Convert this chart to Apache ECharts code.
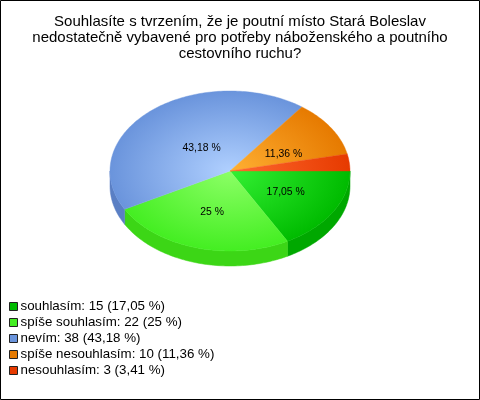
<!DOCTYPE html>
<html><head><meta charset="utf-8">
<script src="https://cdn.jsdelivr.net/npm/echarts@6/dist/echarts.min.js"></script>
<style>html,body{margin:0;padding:0;background:#fff}#c{width:480px;height:400px}</style>
</head><body><div id="c"></div>
<script>
const titleText = "Souhlasíte s tvrzením, že je poutní místo Stará Boleslav\nnedostatečně vybavené pro potřeby náboženského a poutního\ncestovního ruchu?";
const categories = ["souhlasím","spíše souhlasím","nevím","spíše nesouhlasím","nesouhlasím"];
const values = [15,22,38,10,3];
const percents = ["17,05","25","43,18","11,36","3,41"];
const sliceLabels = ["17,05 %","25 %","43,18 %","11,36 %",""];
const innerColors = ["#33f033","#8cff66","#b0d0ff","#ffb033","#ff6a30"];
const outerColors = ["#00bb00","#44ee22","#6a94dc","#e67a00","#e63a00"];
const wallColors = ["#00a800","#3cd616","#5a7fc4","#c46600","#c43200"];
const legendColors = ["#00bb00","#44ee22","#6a94dc","#e67a00","#e63a00"];

const cx=230, cy=171, rx=120, ry=80, depth=15;
const labelR=[0.52,0.53,0.4,0.55,0.5];
const labelDx=[2,0,3,-2,0], labelDy=[0,0,1,7,0];
const total = values.reduce((a,b)=>a+b,0);
const scaleY = ry/rx;

function arc(a0,a1,oy){
  const pts=[], n=Math.max(2,Math.ceil((a1-a0)/0.02));
  for(let i=0;i<=n;i++){const a=a0+(a1-a0)*i/n;pts.push([cx+rx*Math.cos(a),cy+rx*Math.sin(a)+oy]);}
  return pts;
}
function wallPts(a0,a1){
  const top=[],n=Math.max(2,Math.ceil((a1-a0)/0.02));
  for(let i=0;i<=n;i++){const a=a0+(a1-a0)*i/n;top.push([cx+rx*Math.cos(a),cy+ry*Math.sin(a)]);}
  return top.concat(top.slice().reverse().map(p=>[p[0],p[1]+depth]));
}
let cum=0;
const series = categories.map((name,i)=>{
  const start=cum/total*2*Math.PI; cum+=values[i];
  const end=cum/total*2*Math.PI;
  return {
    type:'custom',name,coordinateSystem:'none',silent:true,
    data:[[values[i]]],
    itemStyle:{color:legendColors[i]},
    renderItem(params,api){
      const grad={type:'radial',x:cx,y:cy,r:rx,global:true,colorStops:[{offset:0,color:innerColors[i]},{offset:1,color:outerColors[i]}]};
      const children=[];
      const wEnd=Math.min(end,Math.PI);
      if(start<wEnd){children.push({type:'polygon',z2:1,shape:{points:wallPts(start,wEnd)},style:{fill:wallColors[i],stroke:wallColors[i],lineWidth:0.5}});}
      children.push({type:'polygon',z2:2,originX:cx,originY:cy,scaleY,shape:{points:[[cx,cy]].concat(arc(start,end,0))},style:{fill:grad,stroke:grad,lineWidth:0.5}});
      return {type:'group',children};
    }
  };
});
cum=0;
const labelItems = values.map((v,i)=>{
  const mid=(cum+v/2)/total*2*Math.PI; cum+=v;
  return {v,mid,i};
});
series.push({
  type:'custom',coordinateSystem:'none',silent:true,z:5,data:labelItems.map(d=>[d.v]),
  renderItem(params,api){
    const d=labelItems[params.dataIndex];
    return {type:'text',style:{x:labelDx[d.i]+cx+labelR[d.i]*rx*Math.cos(d.mid),y:labelDy[d.i]+cy+labelR[d.i]*ry*Math.sin(d.mid),text:sliceLabels[d.i],fill:'#000',font:'10.4px "Liberation Sans"',align:'center',verticalAlign:'middle'}};
  }
});
const chart=echarts.init(document.getElementById('c'),null,{renderer:'canvas'});
chart.setOption({
  animation:false,backgroundColor:'#fff',
  graphic:[{type:'rect',shape:{x:0.5,y:0.5,width:479,height:399},style:{fill:'none',stroke:'#000',lineWidth:1},silent:true}],
  title:{text:titleText,left:240,top:14,textAlign:'center',padding:0,textStyle:{fontFamily:'Liberation Sans',fontSize:15,fontWeight:'normal',color:'#000',lineHeight:16}},
  legend:{orient:'vertical',left:9,top:300,itemWidth:8,itemHeight:8,itemGap:3,icon:'rect',padding:0,
    data:categories,
    itemStyle:{borderColor:'#222',borderWidth:1},
    textStyle:{fontFamily:'Liberation Sans',fontSize:13.33,color:'#000',lineHeight:13,padding:[0,0,0,-2]},
    formatter:n=>{const i=categories.indexOf(n);return `${n}: ${values[i]} (${percents[i]} %)`;}},
  series
});
</script></body></html>
